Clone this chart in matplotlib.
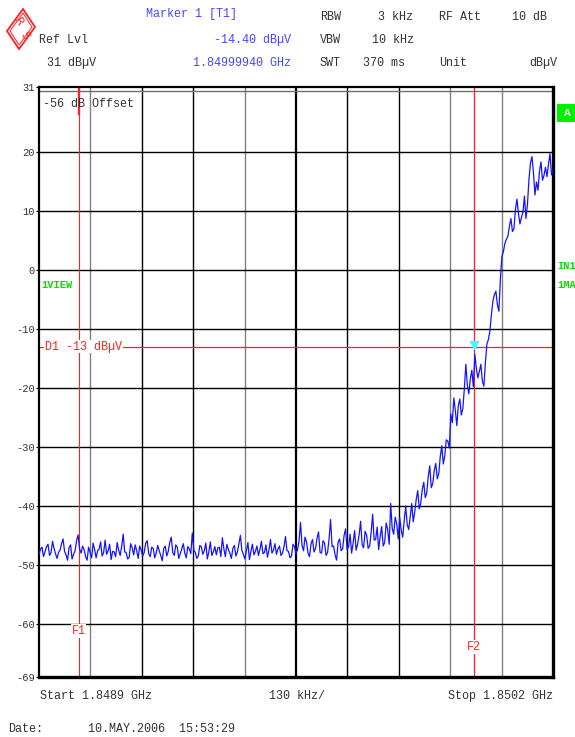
import numpy as np
import matplotlib
matplotlib.use("Agg")
import matplotlib.pyplot as plt
from matplotlib.patches import Polygon, Rectangle

# sweep settings (MHz)
f_start = 1848.9
f_stop = 1850.2
f1 = 1849.0
f2 = 1850.0
marker_f = 1849.9994
marker_lvl = -14.40
d1_lvl = -13
ytick_vals = [31, 20, 10, 0, -10, -20, -30, -40, -50, -60, -69]

trace_lvl = [
    -48.2, -47.3, -47.0, -48.6, -47.8, -46.9, -46.5, -48.4, -47.9, -46.0,
    -47.2, -48.1, -48.9, -47.9, -47.5, -46.4, -45.6, -47.7, -48.3, -49.2,
    -47.1, -46.6, -49.0, -48.2, -47.6, -45.9, -44.9, -47.3, -48.0, -46.8,
    -47.4, -48.6, -49.2, -47.0, -47.9, -48.8, -46.3, -47.4, -48.8, -47.6,
    -47.3, -46.1, -48.5, -47.9, -45.8, -48.2, -47.6, -46.5, -49.1, -47.7,
    -47.8, -48.6, -46.2, -47.5, -48.4, -46.9, -44.8, -47.8, -47.9, -49.0,
    -48.7, -46.4, -47.1, -48.3, -46.6, -47.6, -48.9, -46.8, -47.5, -48.5,
    -47.9, -46.3, -45.9, -48.1, -48.6, -47.0, -47.2, -48.8, -48.0, -46.7,
    -47.6, -48.4, -49.3, -47.2, -46.8, -48.5, -47.7, -46.2, -45.3, -47.9,
    -48.4, -46.6, -47.0, -48.9, -48.1, -47.3, -46.4, -48.0, -48.8, -46.9,
    -47.3, -48.1, -44.6, -47.5, -47.9, -48.9, -48.5, -46.7, -46.9, -48.2,
    -47.6, -46.3, -49.0, -47.8, -46.1, -48.4, -47.8, -46.9, -48.3, -47.1,
    -47.0, -48.6, -45.4, -47.3, -48.6, -46.5, -47.4, -48.0, -48.9, -47.2,
    -46.7, -48.5, -47.8, -46.4, -45.0, -47.6, -48.2, -49.0, -47.6, -46.2,
    -49.1, -47.7, -46.5, -48.3, -47.7, -46.8, -48.4, -47.4, -46.0, -48.1,
    -47.9, -46.6, -48.7, -47.5, -45.7, -48.0, -47.5, -46.4, -48.2, -47.3,
    -46.8, -48.4, -48.0, -46.9, -45.2, -47.6, -47.7, -48.8, -48.5, -46.5,
    -46.9, -48.1, -47.4, -46.0, -42.8, -46.7, -47.6, -45.3, -46.1, -48.0,
    -48.6, -46.4, -45.7, -47.8, -47.2, -45.5, -44.4, -47.9, -48.0, -45.9,
    -46.3, -48.4, -47.9, -45.6, -42.3, -46.9, -46.8, -48.3, -49.2, -46.2,
    -45.6, -47.6, -47.3, -45.0, -43.9, -47.4, -46.9, -44.8, -48.0, -46.3,
    -44.2, -47.5, -46.5, -44.9, -42.6, -46.6, -47.1, -44.3, -45.0, -47.2,
    -46.8, -44.5, -41.4, -45.8, -45.7, -43.6, -47.4, -45.2, -43.5, -46.8,
    -46.2, -42.9, -44.0, -46.5, -39.6, -43.8, -44.8, -41.9, -43.0, -45.6,
    -42.0, -44.1, -45.3, -42.5, -40.0, -43.2, -44.0, -41.8, -39.6, -42.7,
    -41.0, -38.9, -37.4, -40.5, -39.6, -37.2, -36.0, -38.6, -37.8, -35.0,
    -33.2, -36.9, -36.2, -34.0, -32.8, -35.4, -34.5, -31.6, -29.8, -32.9,
    -31.5, -28.8, -29.0, -30.2, -24.4, -25.9, -21.7, -23.8, -26.4, -23.0,
    -21.9, -24.6, -23.5, -20.2, -16.0, -19.5, -21.0, -18.4, -17.0, -19.8,
    -14.3, -16.7, -18.3, -17.2, -16.0, -18.9, -19.7, -15.8, -12.6, -11.8,
    -10.4, -7.6, -5.3, -4.2, -3.6, -5.9, -7.0, -1.5, 2.3, 3.1,
    4.5, 5.2, 5.7, 7.4, 8.7, 6.5, 7.0, 10.2, 12.0, 9.6,
    7.8, 8.9, 9.8, 12.5, 8.7, 11.1, 15.3, 18.1, 19.2, 16.4,
    12.7, 14.9, 13.5, 16.7, 18.3, 15.2, 16.0, 17.4, 15.8, 17.9,
    19.7, 16.1, 17.0,
]
trace_f = np.linspace(f_start, f_stop, len(trace_lvl))

mono = "Liberation Mono"
txt = "#333333"
blue = "#4646ff"
green = "#00e000"
red = "#ff2020"

fig = plt.figure(figsize=(5.75, 7.37), dpi=100)
W, H = 575, 737


def px(x, y):
    return x / W, 1 - y / H


def ftext(x, y, s, **kw):
    kw.setdefault("family", mono)
    kw.setdefault("size", 8.5)
    kw.setdefault("color", txt)
    kw.setdefault("va", "center")
    fig.text(*px(x, y), s, **kw)


ax = fig.add_axes([39 / W, 1 - 677 / H, 514 / W, 590 / H])
ax.set_xlim(f_start, f_stop)
ax.set_ylim(-69, 31)

# grid
div = (f_stop - f_start) / 10
vcolors = ["#808080", "black", "black", "#808080", "black", "black", "black", "#808080", "#808080"]
for i in range(1, 10):
    lw = 1.6 if i == 5 else 1.0
    ax.axvline(f_start + i * div, color=vcolors[i - 1], lw=lw, zorder=1)
for v in ytick_vals[1:-1]:
    ax.axhline(v, color="black", lw=1.0, zorder=1)
ax.axhline(30.3, color="#707070", lw=1.0, zorder=1)

# marker lines
ax.axvline(f1, color=red, lw=0.8, zorder=2)
ax.axvline(f2, color=red, lw=0.9, zorder=2)
ax.plot([f1, f1], [26.5, 31], color=red, lw=1.6, zorder=2)
ax.axhline(d1_lvl, color=red, lw=0.9, zorder=2)

ax.plot(trace_f, trace_lvl, color="#1414ff", lw=0.9, zorder=3)
ax.plot([marker_f], [marker_lvl + 1.6], marker="v", color="#40ffff", ms=6, zorder=4)

for s in ["left", "top"]:
    ax.spines[s].set_linewidth(1.6)
for s in ["right", "bottom"]:
    ax.spines[s].set_linewidth(2.4)

ax.set_xticks([])
ax.set_yticks(ytick_vals)
ax.set_yticklabels([str(v) for v in ytick_vals], family=mono, size=7.5, color=txt)
ax.tick_params(axis="y", length=2, pad=1)

# labels inside the grid
ax.text(1848.91, 28.2, "-56 dB Offset", family=mono, size=8.5, color=txt, va="center")
ax.text(1848.905, -2.6, "1VIEW", family=mono, size=7.5, color=green, weight="bold", va="center")
ax.text(1848.915, d1_lvl, "D1 -13 dB\u00b5V", family=mono, size=8.5, color=red, va="center",
        bbox=dict(facecolor="white", edgecolor="none", pad=0.5), zorder=5)
ax.text(f1, -61.2, "F1", family=mono, size=8.5, color=red, ha="center", va="center",
        bbox=dict(facecolor="white", edgecolor="none", pad=0.5), zorder=5)
ax.text(f2, -63.9, "F2", family=mono, size=8.5, color=red, ha="center", va="center",
        bbox=dict(facecolor="white", edgecolor="none", pad=0.5), zorder=5)

# header
ftext(146, 14, "Marker 1 [T1]", color=blue)
ftext(39, 40, "Ref Lvl")
ftext(291, 40, "-14.40 dB\u00b5V", color=blue, ha="right")
ftext(47, 63, "31 dB\u00b5V")
ftext(291, 63, "1.84999940 GHz", color=blue, ha="right")
ftext(320, 17, "RBW")
ftext(413, 17, "3 kHz", ha="right")
ftext(439, 17, "RF Att")
ftext(547, 17, "10 dB", ha="right")
ftext(320, 40, "VBW")
ftext(414, 40, "10 kHz", ha="right")
ftext(320, 63, "SWT")
ftext(405, 63, "370 ms", ha="right")
ftext(439, 63, "Unit")
ftext(557, 63, "dB\u00b5V", ha="right")

# footer
ftext(40, 696, "Start 1.8489 GHz")
ftext(297, 696, "130 kHz/", ha="center")
ftext(553, 696, "Stop 1.8502 GHz", ha="right")
ftext(8, 729, "Date:")
ftext(88, 729, "10.MAY.2006  15:53:29")

# right side status
fig.patches.append(Rectangle(px(557, 122), 20 / W, 18 / H, transform=fig.transFigure,
                             facecolor="#00f000", edgecolor="none"))
ftext(567, 113, "A", color="white", ha="center", weight="bold", size=8)
ftext(557, 266, "IN1", color=green, weight="bold", size=7.5)
ftext(557, 285, "1MA", color=green, weight="bold", size=7.5)

# R&S logo
cx, cy, hw, hh = 21, 29, 14, 20
outer = [px(cx + 2, cy - hh), px(cx + hw, cy - 2), px(cx - 2, cy + hh), px(cx - hw, cy + 2)]
inner = [px(cx + 2, cy - hh + 4), px(cx + hw - 3, cy - 2), px(cx - 2, cy + hh - 4), px(cx - hw + 3, cy + 2)]
fig.patches.append(Polygon(outer, closed=True, transform=fig.transFigure,
                           facecolor="none", edgecolor=red, lw=1.3))
fig.patches.append(Polygon(inner, closed=True, transform=fig.transFigure,
                           facecolor="none", edgecolor=red, lw=0.7))
fig.text(*px(18, 22), "R", family="DejaVu Sans", size=8, color=red, ha="center", va="center",
         rotation=-60)
fig.text(*px(25, 36), "S", family="DejaVu Sans", size=8, color=red, ha="center", va="center",
         rotation=-60)

fig.savefig("out.png", dpi=100)
